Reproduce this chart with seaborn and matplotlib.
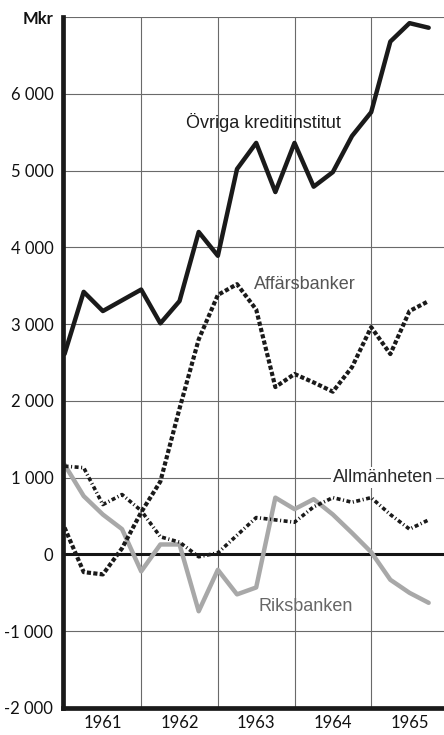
import matplotlib
matplotlib.use('Agg')
import matplotlib.pyplot as plt
import seaborn as sns
import pandas as pd

# kvartal 1961-1965
kvartal = [1961.0, 1961.25, 1961.5, 1961.75, 1962.0, 1962.25, 1962.5, 1962.75,
           1963.0, 1963.25, 1963.5, 1963.75, 1964.0, 1964.25, 1964.5, 1964.75,
           1965.0, 1965.25, 1965.5, 1965.75]

# Mkr
ovriga = [2610, 3420, 3170, 3310, 3450, 3010, 3300, 4200, 3890, 5020,
          5360, 4720, 5360, 4790, 4980, 5450, 5760, 6680, 6920, 6860]
affarsbanker = [350, -230, -260, 80, 550, 950, 1900, 2800, 3380, 3520,
                3190, 2180, 2350, 2240, 2120, 2440, 2960, 2610, 3170, 3300]
allmanheten = [1150, 1130, 650, 780, 570, 230, 160, -30, 20, 250,
               480, 450, 420, 620, 740, 680, 740, 520, 330, 450]
riksbanken = [1170, 760, 520, 330, -220, 130, 130, -740, -200, -520,
              -430, 740, 590, 720, 520, 280, 30, -330, -500, -630]

y_ticks = [-2000, -1000, 0, 1000, 2000, 3000, 4000, 5000, 6000, 7000]
y_labels = ['-2 000', '-1 000', '0', '1 000', '2 000', '3 000', '4 000', '5 000', '6 000', 'Mkr']
ar_mitt = [1961.5, 1962.5, 1963.5, 1964.5, 1965.5]
ar_labels = ['1961', '1962', '1963', '1964', '1965']
ar_grans = [1962, 1963, 1964, 1965]
kvart_ticks = [1961.25, 1961.75, 1962.25, 1962.75, 1963.25, 1963.75,
               1964.25, 1964.75, 1965.25, 1965.75]

sns.set_style("white")
plt.rcParams['font.family'] = ['Lato', 'DejaVu Sans']

fig = plt.figure(figsize=(4.44, 7.35), dpi=100)
ax = fig.add_axes([63/444, 27/735, 1 - 63/444, 691/735])

# rutnät
for y in y_ticks:
    ax.axhline(y, color='#6a6a6a', lw=0.8, zorder=1)
for x in ar_grans:
    ax.axvline(x, color='#6a6a6a', lw=0.8, zorder=1)
ax.axhline(0, color='#151515', lw=2.2, zorder=2)

sns.lineplot(x=kvartal, y=riksbanken, ax=ax, color='#a8a8a8', linewidth=3.2, zorder=3)
sns.lineplot(x=kvartal, y=allmanheten, ax=ax, color='#1a1a1a', linewidth=2.6,
             linestyle=(0, (1.1, 0.7, 0.3, 0.7)), zorder=4)
sns.lineplot(x=kvartal, y=affarsbanker, ax=ax, color='#1a1a1a', linewidth=3.0,
             linestyle=(0, (1.0, 0.55)), zorder=4)
sns.lineplot(x=kvartal, y=ovriga, ax=ax, color='#1a1a1a', linewidth=3.2, zorder=5)

ax.set_xlim(1960.98, 1965.95)
ax.set_ylim(-2000, 7000)

ax.set_yticks(y_ticks)
ax.set_yticklabels(y_labels)
ax.get_yticklabels()[-1].set_fontweight('bold')
ax.tick_params(axis='y', length=0, pad=7, labelsize=12, labelcolor='#111')

ax.set_xticks(ar_mitt)
ax.set_xticklabels(ar_labels)
ax.set_xticks(kvart_ticks, minor=True)
ax.tick_params(axis='x', which='major', direction='in', length=9, width=0.8,
               color='#555', pad=5, labelsize=12, labelcolor='#111')
ax.tick_params(axis='x', which='minor', direction='in', length=5, width=0.8, color='#555')

for s in ['top', 'right']:
    ax.spines[s].set_visible(False)
for s in ['left', 'bottom']:
    ax.spines[s].set_linewidth(3.4)
    ax.spines[s].set_color('#1a1a1a')
    ax.spines[s].set_zorder(6)

txt = dict(family=['Liberation Sans', 'DejaVu Sans'], fontsize=13, ha='center', va='center')
ax.text(1963.60, 5630, 'Övriga kreditinstitut', color='#1e1e1e', zorder=6, **txt)
ax.text(1964.13, 3520, 'Affärsbanker', color='#555', zorder=6, **txt)
ax.text(1965.16, 1000, 'Allmänheten', color='#2a2a2a', zorder=6,
        bbox=dict(facecolor='white', edgecolor='none', pad=1.5), **txt)
ax.text(1964.14, -680, 'Riksbanken', color='#666', zorder=6, **txt)

ax.set_xlabel('')
ax.set_ylabel('')
fig.savefig('out.png', dpi=100)
